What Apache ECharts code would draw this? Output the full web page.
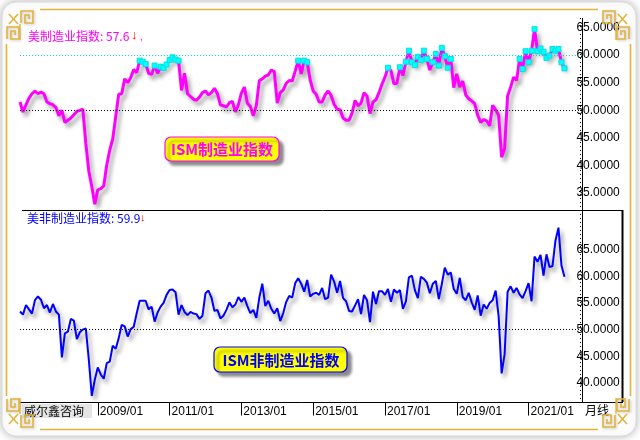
<!DOCTYPE html>
<html><head><meta charset="utf-8">
<script src="https://cdn.jsdelivr.net/npm/echarts@6/dist/echarts.min.js"></script>
<style>html,body{margin:0;padding:0;background:#fff;}#c{width:640px;height:440px;}</style>
</head><body><div id="c"></div>
<script>
// ---- data ----
const startYear = 2006, startMonth = 11;   // first month of the series
const padMonths = 6;                        // empty months after the last value
const tickLabels = ['2009/01','2011/01','2013/01','2015/01','2017/01','2019/01','2021/01'];
const pmiTicks = [35, 40, 45, 50, 55, 60, 65];
const nmiTicks = [40, 45, 50, 55, 60, 65];
const pmiTitle = '美制造业指数: 57.6';
const nmiTitle = '美非制造业指数: 59.9';
const pmiLegend = 'ISM制造业指数';
const nmiLegend = 'ISM非制造业指数';
const pmi = [
  51.5, 49.7,
  51.0, 52.2, 53.0, 53.5, 53.0, 53.3, 53.0, 51.5, 51.2, 51.0, 50.5, 49.0,
  50.0, 47.8, 48.2, 48.6, 49.2, 49.8, 50.0, 50.2, 44.0, 39.0, 36.2, 33.0,
  35.6, 35.8, 36.3, 40.1, 42.8, 44.8, 48.9, 52.9, 53.0, 55.7, 55.0, 55.9,
  57.4, 56.8, 59.0, 58.8, 58.4, 56.7, 56.5, 58.1, 56.7, 57.9, 57.7, 58.3,
  59.1, 59.6, 59.2, 59.0, 53.6, 56.7, 53.0, 52.5, 52.0, 51.8, 52.4, 53.2,
  53.5, 52.8, 53.2, 54.0, 53.0, 51.0, 50.8, 50.6, 51.4, 51.6, 49.7, 51.0,
  53.1, 54.2, 51.3, 50.7, 49.0, 50.9, 55.4, 55.7, 56.2, 56.4, 57.3, 57.0,
  51.3, 53.2, 53.7, 54.9, 55.4, 55.3, 57.1, 59.0, 56.6, 59.0, 58.7, 55.5,
  53.5, 52.9, 51.5, 51.5, 52.8, 53.5, 52.7, 51.1, 50.2, 50.1, 48.6, 48.2,
  48.2, 49.5, 51.8, 50.8, 51.3, 53.2, 52.6, 49.4, 51.5, 51.9, 53.2, 54.7,
  56.0, 57.7, 57.2, 54.8, 54.9, 57.8, 56.3, 58.8, 60.8, 58.7, 58.2, 59.7,
  59.1, 60.8, 59.3, 57.3, 58.7, 60.2, 58.1, 61.3, 59.8, 57.7, 59.3, 54.1,
  56.6, 54.2, 55.3, 52.8, 52.1, 51.7, 51.2, 49.1, 47.8, 48.3, 48.1, 47.2,
  50.9, 50.1, 49.1, 41.5, 43.1, 52.6, 54.2, 56.0, 55.4, 59.3, 57.5, 60.7,
  58.7, 60.8, 64.7, 60.7, 61.2, 60.6, 59.5, 59.9, 61.1, 60.8, 61.1, 58.7,
  57.6
];
const nmi = [
  53.4, 52.8,
  54.6, 53.8, 53.0, 55.5, 56.2, 55.6, 54.0, 54.6, 53.2, 54.8, 53.4, 52.8,
  44.8, 49.3, 49.6, 52.0, 51.7, 48.2, 49.5, 50.0, 50.2, 44.4, 37.6, 40.6,
  42.9, 41.6, 40.8, 43.7, 44.0, 47.0, 46.4, 48.4, 50.9, 50.6, 48.7, 50.1,
  50.5, 53.0, 55.4, 55.4, 55.4, 53.8, 54.3, 51.5, 53.2, 54.3, 55.0, 56.5,
  57.4, 57.5, 57.0, 52.8, 54.6, 53.3, 52.7, 53.3, 53.0, 52.9, 52.0, 52.6,
  56.8, 57.3, 56.0, 53.5, 53.7, 52.1, 52.6, 53.7, 55.1, 54.2, 54.7, 56.1,
  55.2, 56.0, 54.4, 53.1, 53.7, 52.2, 56.0, 58.6, 54.4, 55.4, 53.9, 53.0,
  54.0, 51.6, 53.1, 55.2, 56.3, 56.0, 58.7, 59.6, 58.6, 57.1, 59.3, 56.2,
  56.7, 56.9, 56.5, 57.8, 55.7, 56.0, 60.3, 59.0, 56.9, 59.1, 55.9, 55.3,
  53.5, 53.4, 54.5, 55.7, 52.9, 56.5, 55.5, 51.4, 57.1, 54.8, 57.2, 57.2,
  56.5, 57.6, 55.2, 57.5, 56.9, 57.4, 53.9, 55.3, 59.8, 60.1, 57.4, 55.9,
  59.9, 59.5, 58.8, 56.8, 58.6, 59.1, 55.7, 58.5, 61.6, 60.3, 60.7, 57.6,
  56.7, 59.7, 56.1, 55.5, 56.9, 55.1, 53.7, 56.4, 52.6, 54.7, 53.9, 55.0,
  55.5, 57.3, 52.5, 41.8, 45.4, 57.1, 58.1, 56.9, 57.8, 56.6, 55.9, 57.2,
  58.7, 55.3, 63.7, 62.7, 64.0, 60.1, 64.1, 61.7, 61.9, 66.7, 69.1, 62.0,
  59.9
];

// ---- categories (months) ----
const months = [];
for (let i = 0; i < pmi.length + padMonths; i++) {
  const m = startMonth - 1 + i;
  const y = startYear + Math.floor(m / 12);
  months.push(y + '/' + String(m % 12 + 1).padStart(2, '0'));
}

const GOLD = '#e2b43c';
const gridL = 20, gridR = 57.6;
const fontNum = '"Liberation Sans", Arial, sans-serif';
const fontCJK = '"Noto Sans CJK SC", "Liberation Sans", sans-serif';

// ---- decorations ----
function fret(x, y, s, fx, fy) {
  const pts = [[0,s],[0,0],[s,0],[s,s],[s*0.33,s],[s*0.33,s*0.33],[s*0.67,s*0.33],[s*0.67,s*0.67]];
  return {
    type: 'polyline', z: 7, silent: true,
    shape: { points: pts.map(p => [x + (fx ? s - p[0] : p[0]), y + (fy ? s - p[1] : p[1])]) },
    style: { stroke: GOLD, lineWidth: 1.6, fill: null, shadowColor: 'rgba(0,0,0,0.25)', shadowBlur: 3, shadowOffsetX: 1, shadowOffsetY: 1 }
  };
}
function corner(left, top) {
  const els = [];
  const X = left ? (v) => v : (v) => 636 - v;
  const Y = top ? (v) => v : (v) => 438 - v;
  const fx = !left, fy = !top;
  const f1x = left ? 21 : 636 - 33, f1y = top ? 11 : 438 - 23;
  const f2x = left ? 7 : 636 - 19, f2y = top ? 27 : 438 - 39;
  els.push(fret(f1x, f1y, 12, fx, fy));
  els.push(fret(f2x, f2y, 12, fx, fy));
  els.push({ type: 'line', z: 7, silent: true, shape: { x1: X(9), y1: Y(14), x2: X(18), y2: Y(24) }, style: { stroke: GOLD, lineWidth: 1.6 } });
  els.push({ type: 'line', z: 7, silent: true, shape: { x1: X(18), y1: Y(14), x2: X(9), y2: Y(24) }, style: { stroke: GOLD, lineWidth: 1.6 } });
  els.push({ type: 'line', z: 7, silent: true, shape: { x1: X(20), y1: Y(24), x2: X(20), y2: Y(40) }, style: { stroke: GOLD, lineWidth: 1.4 } });
  return els;
}

const graphics = [
  { type: 'rect', z: -10, silent: true, shape: { x: 2, y: 2, width: 634, height: 434, r: 14 },
    style: { fill: '#fff', stroke: '#dcdcdc', lineWidth: 1, shadowColor: 'rgba(0,0,0,0.28)', shadowBlur: 8 } },
  { type: 'line', z: 1, silent: true, shape: { x1: 40, y1: 9.5, x2: 598, y2: 9.5 }, style: { stroke: GOLD, lineWidth: 1.6 } },
  { type: 'line', z: 1, silent: true, shape: { x1: 40, y1: 429.5, x2: 598, y2: 429.5 }, style: { stroke: GOLD, lineWidth: 1.6 } },
  { type: 'line', z: 1, silent: true, shape: { x1: 6.5, y1: 44, x2: 6.5, y2: 396 }, style: { stroke: GOLD, lineWidth: 1.6 } },
  { type: 'line', z: 1, silent: true, shape: { x1: 630.5, y1: 44, x2: 630.5, y2: 396 }, style: { stroke: GOLD, lineWidth: 1.6 } },
  ...corner(true, true), ...corner(false, true), ...corner(true, false), ...corner(false, false),
  { type: 'line', z: 5, silent: true, shape: { x1: 582.5, y1: 18, x2: 582.5, y2: 402 }, style: { stroke: '#000', lineWidth: 1 } },
  { type: 'line', z: 5, silent: true, shape: { x1: 580.5, y1: 18, x2: 580.5, y2: 402 }, style: { stroke: '#000', lineWidth: 1, lineDash: [1, 3] } },
  { type: 'line', z: 5, silent: true, shape: { x1: 22, y1: 210.5, x2: 623, y2: 210.5 }, style: { stroke: '#000', lineWidth: 1 } },
  { type: 'line', z: 5, silent: true, shape: { x1: 622.5, y1: 210, x2: 622.5, y2: 402 }, style: { stroke: '#000', lineWidth: 2 } },
  { type: 'line', z: 5, silent: true, shape: { x1: 582, y1: 402.5, x2: 623, y2: 402.5 }, style: { stroke: '#000', lineWidth: 1 } },
  { type: 'text', z: 6, silent: true, style: { x: 28, y: 36, text: pmiTitle, fill: '#ff00ff', font: '12px ' + fontCJK, verticalAlign: 'middle' } },
  { type: 'text', z: 6, silent: true, style: { x: 131, y: 35, text: '↓', fill: '#ff0000', font: '13px ' + fontNum, verticalAlign: 'middle' } },
  { type: 'text', z: 6, silent: true, style: { x: 140, y: 37, text: ',', fill: '#ff00ff', font: '10px ' + fontNum, verticalAlign: 'middle' } },
  { type: 'text', z: 6, silent: true, style: { x: 27, y: 218, text: nmiTitle, fill: '#0000ff', font: '12px ' + fontCJK, verticalAlign: 'middle' } },
  { type: 'text', z: 6, silent: true, style: { x: 140, y: 218, text: '↓', fill: '#ff0000', font: '11px ' + fontNum, verticalAlign: 'middle' } },
  { type: 'rect', z: 20, silent: true, shape: { x: 165, y: 137, width: 114, height: 24, r: 6 },
    style: { fill: '#ffff00', stroke: '#ff00ff', lineWidth: 1.2, shadowColor: 'rgba(0,0,0,0.45)', shadowBlur: 3, shadowOffsetX: 4, shadowOffsetY: 4 } },
  { type: 'text', z: 21, silent: true, style: { x: 222, y: 149.5, text: pmiLegend, fill: '#ff00ff', font: 'bold 15px ' + fontCJK, align: 'center', verticalAlign: 'middle',
    textShadowColor: 'rgba(90,0,90,0.9)', textShadowOffsetX: -1, textShadowOffsetY: 1 } },
  { type: 'rect', z: 20, silent: true, shape: { x: 214, y: 347, width: 133, height: 25, r: 6 },
    style: { fill: '#ffff00', stroke: '#0000ff', lineWidth: 1.2, shadowColor: 'rgba(0,0,0,0.45)', shadowBlur: 3, shadowOffsetX: 4, shadowOffsetY: 4 } },
  { type: 'text', z: 21, silent: true, style: { x: 281, y: 360, text: nmiLegend, fill: '#0000ff', font: 'bold 15px ' + fontCJK, align: 'center', verticalAlign: 'middle',
    textShadowColor: 'rgba(0,0,90,0.9)', textShadowOffsetX: -1, textShadowOffsetY: 1 } },
  { type: 'text', z: 6, silent: true, style: { x: 22, y: 404, width: 66, text: '威尔鑫咨询', fill: '#000', font: '12px ' + fontCJK,
    backgroundColor: '#e4e4e4', padding: [1, 2, 1, 2] } },
  { type: 'text', z: 6, silent: true, style: { x: 585, y: 404, text: '月线', fill: '#000', font: '12px ' + fontCJK } }
];

const isTick = (i, v) => tickLabels.indexOf(v) >= 0;

const chart = echarts.init(document.getElementById('c'), null, { renderer: 'canvas' });
chart.setOption({
  animation: false,
  backgroundColor: '#ffffff',
  grid: [
    { left: gridL, right: gridR, top: 27.5, height: 193.2 },
    { left: gridL, right: gridR, top: 222.8, height: 186.9 },
    { left: gridL, right: gridR, top: 401, height: 1.5 }
  ],
  xAxis: [
    { type: 'category', gridIndex: 0, data: months, boundaryGap: false, show: false },
    { type: 'category', gridIndex: 1, data: months, boundaryGap: false, show: false },
    { type: 'category', gridIndex: 2, data: months, boundaryGap: false, position: 'bottom',
      axisLine: { show: true, lineStyle: { color: '#000', width: 1 } },
      axisTick: { show: true, interval: isTick, length: 13, inside: false, lineStyle: { color: '#000', width: 1 } },
      axisLabel: { show: true, interval: isTick, align: 'left', margin: 3, color: '#000', fontSize: 12, fontFamily: fontNum, padding: [0, 0, 0, 2] },
      splitLine: { show: false } }
  ],
  yAxis: [
    { type: 'value', gridIndex: 0, position: 'right', min: 30, max: 65, interval: 5,
      axisLine: { show: false }, axisTick: { show: false }, splitLine: { show: false },
      axisLabel: { show: true, margin: -6, color: '#000', fontSize: 12, fontFamily: fontNum,
        formatter: v => pmiTicks.indexOf(v) >= 0 ? v.toFixed(4) : '' } },
    { type: 'value', gridIndex: 1, position: 'right', min: 35, max: 70, interval: 5,
      axisLine: { show: false }, axisTick: { show: false }, splitLine: { show: false },
      axisLabel: { show: true, margin: -6, color: '#000', fontSize: 12, fontFamily: fontNum,
        formatter: v => nmiTicks.indexOf(v) >= 0 ? v.toFixed(4) : '' } },
    { type: 'value', gridIndex: 2, show: false }
  ],
  graphic: graphics,
  series: [
    { type: 'line', name: pmiLegend, xAxisIndex: 0, yAxisIndex: 0, data: pmi, z: 3,
      showAllSymbol: true, showSymbol: true,
      symbol: (v) => (v >= 57.5 ? 'rect' : 'none'), symbolSize: 5,
      itemStyle: { color: '#00ffff', borderColor: '#00e0e0', borderWidth: 1 },
      lineStyle: { color: '#ff00ff', width: 3, shadowColor: 'rgba(0,0,0,0.38)', shadowBlur: 4, shadowOffsetX: 3, shadowOffsetY: 4 },
      emphasis: { disabled: true },
      markLine: { silent: true, symbol: 'none', label: { show: false },
        data: [
          { yAxis: 60, lineStyle: { color: '#00d8d8', type: [1, 2], width: 1 } },
          { yAxis: 50, lineStyle: { color: '#000', type: [1, 2], width: 1 } }
        ] } },
    { type: 'line', name: nmiLegend, xAxisIndex: 1, yAxisIndex: 1, data: nmi, z: 3,
      showSymbol: false, symbol: 'none',
      lineStyle: { color: '#0000ff', width: 2, shadowColor: 'rgba(0,0,0,0.38)', shadowBlur: 4, shadowOffsetX: 3, shadowOffsetY: 4 },
      emphasis: { disabled: true },
      markLine: { silent: true, symbol: 'none', label: { show: false },
        data: [ { yAxis: 50, lineStyle: { color: '#000', type: [1, 2], width: 1 } } ] } }
  ]
});
</script></body></html>
